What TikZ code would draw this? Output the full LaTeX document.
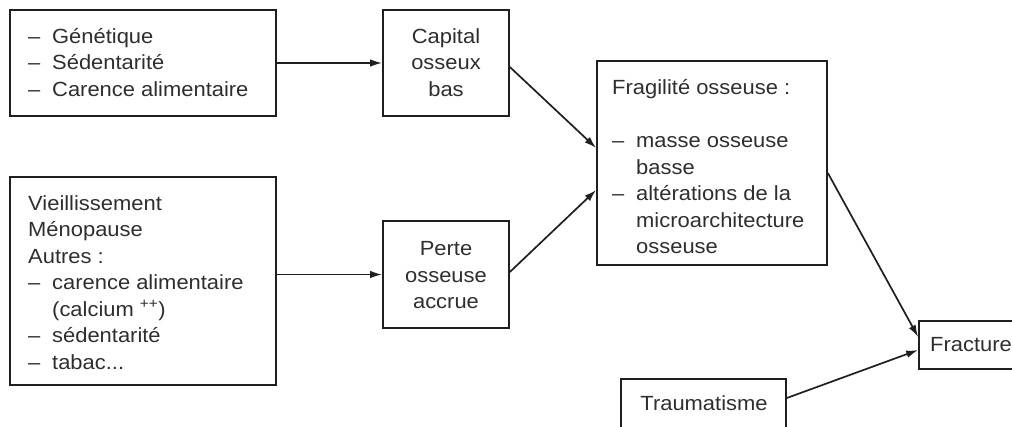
\documentclass[tikz,border=0pt]{standalone}
\usepackage{fontspec}
\setmainfont{Liberation Sans}[FakeStretch=1.07]
\usetikzlibrary{arrows.meta}
\definecolor{ink}{gray}{0.12}
\definecolor{txt}{gray}{0.18}
\newcommand{\dsh}{\makebox[24pt][l]{--}}
\newcommand{\ind}{\hspace*{24pt}}
\begin{document}
\begin{tikzpicture}[x=1pt,y=-1pt,
  box/.style={draw=ink,line width=1.7pt,rectangle,inner sep=0pt},
  lbl/.style={text=txt,inner sep=0pt,font=\fontsize{20.5}{26.5}\selectfont},
  conn/.style={draw=ink,line width=1.7pt,-{Latex[length=12pt,width=7.5pt]}}]
\useasboundingbox (0,0) rectangle (1012,426);
% boxes
\node[box,minimum width=266pt,minimum height=106pt] (b1) at (143,63) {};
\node[box,minimum width=126pt,minimum height=106pt] (cap) at (446,63) {};
\node[box,minimum width=266pt,minimum height=208pt] (b2) at (143,281) {};
\node[box,minimum width=126pt,minimum height=107pt] (per) at (446,274.5) {};
\node[box,minimum width=230pt,minimum height=204pt] (frag) at (712,163) {};
\node[box,minimum width=120pt,minimum height=48pt] (frac) at (979,345) {};
\node[box,minimum width=165pt,minimum height=61pt] (tra) at (703.5,409.5) {};
% texts
\node[lbl,align=left,anchor=west] (t1) at (28,62.5) {\dsh Génétique\\\dsh Sédentarité\\\dsh Carence alimentaire};
\node[lbl,align=center] (tcap) at (446,62.5) {Capital\\osseux\\bas};
\node[lbl,align=left,anchor=west] (t2) at (28,282.5) {Vieillissement\\Ménopause\\Autres :\\\dsh carence alimentaire\\\ind (calcium \textsuperscript{++})\\\dsh sédentarité\\\dsh tabac...};
\node[lbl,align=center] (tper) at (446,275.5) {Perte\\osseuse\\accrue};
\node[lbl,align=left,anchor=west] (tfrag) at (612,167) {Fragilité osseuse :\\[26.5pt]\dsh masse osseuse\\\ind basse\\\dsh altérations de la\\\ind microarchitecture\\\ind osseuse};
\node[lbl,anchor=west] (tfrac) at (930,345) {Fracture};
\node[lbl] (ttra) at (704,403) {Traumatisme};
% connectors
\draw[conn] (b1.east) -- (cap.west);
\draw[conn] (b2.east |- per.west) -- (per.west);
\draw[conn] ([yshift=-4pt]cap.east) -- ([yshift=15pt]frag.west);
\draw[conn] ([yshift=2.5pt]per.east) -- ([yshift=-27pt]frag.west);
\draw[conn] ([yshift=-10pt]frag.east) -- ([yshift=8pt]frac.west);
\draw[conn] ([yshift=11.5pt]tra.east) -- ([yshift=-5pt]frac.west);
\end{tikzpicture}
\end{document}
